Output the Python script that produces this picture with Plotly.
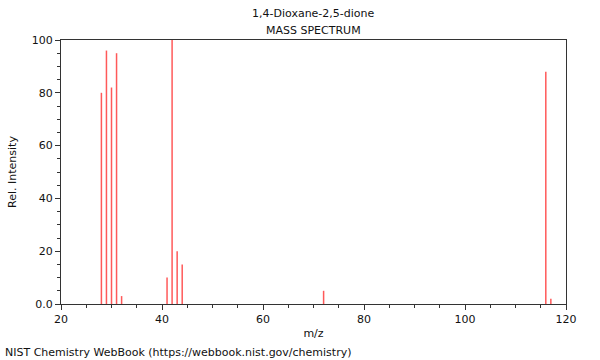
import plotly.graph_objects as go

mz = [28, 29, 30, 31, 32, 41, 42, 43, 44, 72, 116, 117]
intensity = [80, 96, 82, 95, 3, 10, 100, 20, 15, 5, 88, 2]

x_ticks = [20, 40, 60, 80, 100, 120]
y_ticks = [0, 20, 40, 60, 80, 100]
y_tick_labels = ["0.0", "20", "40", "60", "80", "100"]

title_line1 = "1,4-Dioxane-2,5-dione"
title_line2 = "MASS SPECTRUM"
footer = "NIST Chemistry WebBook (https://webbook.nist.gov/chemistry)"

xs, ys = [], []
for m, v in zip(mz, intensity):
    xs += [m, m, None]
    ys += [0, v, None]

fig = go.Figure()
fig.add_trace(go.Scatter(x=xs, y=ys, mode="lines",
                         line=dict(color="rgba(255,60,60,0.85)", width=1.5),
                         hoverinfo="skip", showlegend=False))

font = dict(family="DejaVu Sans", size=11, color="#111")
axis_common = dict(showgrid=False, zeroline=False, showline=True, linecolor="#333",
                   linewidth=1, mirror=True, ticks="outside", ticklen=5, tickcolor="#333",
                   tickfont=font)
fig.update_xaxes(range=[20, 120], tickvals=x_ticks,
                 minor=dict(dtick=5, ticks="outside", ticklen=3, tickcolor="#333"),
                 title=dict(text="m/z", font=font, standoff=4), **axis_common)
fig.update_yaxes(range=[0, 100], tickvals=y_ticks, ticktext=y_tick_labels,
                 minor=dict(dtick=5, ticks="outside", ticklen=3, tickcolor="#333"),
                 title=dict(text="Rel. Intensity", font=font, standoff=12), **axis_common)

plot_w = 600 - 61 - 34
plot_h = 360 - 40 - 56
fig.update_layout(
    width=600, height=360,
    margin=dict(l=61, r=34, t=40, b=56),
    paper_bgcolor="white", plot_bgcolor="white",
    font=font,
    annotations=[
        dict(text=title_line1, x=0.5, y=1, xref="paper", yref="paper", yshift=27,
             showarrow=False, font=font, xanchor="center", yanchor="middle"),
        dict(text=title_line2, x=0.5, y=1, xref="paper", yref="paper", yshift=10,
             showarrow=False, font=font, xanchor="center", yanchor="middle"),
        dict(text=footer, x=(3 - 61) / plot_w, y=-(352 - 304) / plot_h,
             xref="paper", yref="paper", showarrow=False,
             font=font, xanchor="left", yanchor="middle"),
    ],
)

fig.write_html("out.html", config={"displayModeBar": False, "staticPlot": True},
               post_script="document.body.style.margin='0px';document.body.style.overflow='hidden';")
